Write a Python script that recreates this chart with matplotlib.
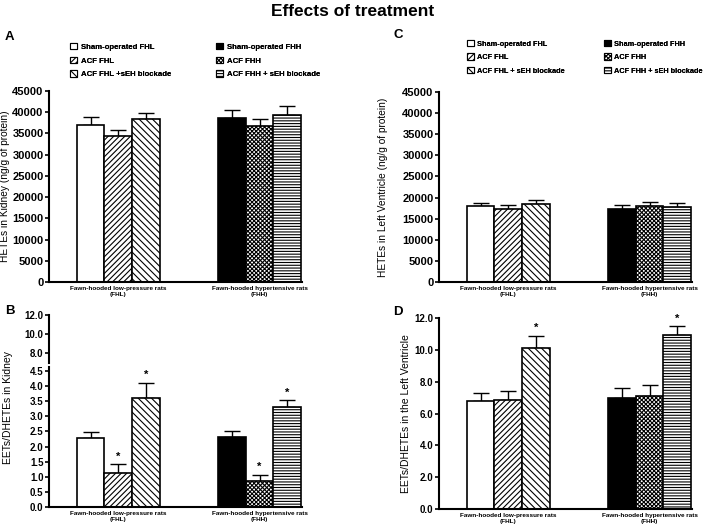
import numpy as np
import matplotlib.pyplot as plt
from matplotlib.patches import Patch

plt.rcParams['font.family'] = ['Liberation Sans', 'DejaVu Sans']
plt.rcParams['font.weight'] = 'bold'
plt.rcParams['hatch.linewidth'] = 0.8

# ------------------------------------------------------------
# data
# ------------------------------------------------------------
groups = ['Fawn-hooded low-pressure rats\n(FHL)',
          'Fawn-hooded hypertensive rats\n(FHH)']
labels_A = ['Sham-operated FHL', 'ACF FHL', 'ACF FHL +sEH blockade',
            'Sham-operated FHH', 'ACF FHH', 'ACF FHH + sEH blockade']
labels_C = ['Sham-operated FHL', 'ACF FHL', 'ACF FHL + sEH blockade',
            'Sham-operated FHH', 'ACF FHH', 'ACF FHH + sEH blockade']

hete_kidney = [37100, 34400, 38400, 38600, 36700, 39400]
hete_kidney_err = [1700, 1300, 1300, 2000, 1800, 2100]

eet_kidney = [2.28, 1.13, 3.62, 2.33, 0.86, 3.32]
eet_kidney_err = [0.20, 0.28, 0.49, 0.20, 0.20, 0.21]
eet_kidney_sig = [False, True, True, False, True, True]

hete_lv = [17900, 17400, 18400, 17300, 18100, 17700]
hete_lv_err = [800, 950, 1050, 1050, 950, 900]

eet_lv = [6.77, 6.88, 10.13, 6.98, 7.09, 10.94]
eet_lv_err = [0.50, 0.54, 0.75, 0.63, 0.69, 0.56]
eet_lv_sig = [False, False, True, False, False, True]

# bar styles
faces = ['white', 'white', 'white', 'black', 'white', 'white']
hatches = [None, '//////', '\\\\\\\\\\', None, 'xxxxxxxx', '------']
pos = [1.5, 2.5, 3.5, 6.6, 7.6, 8.6]
centers = [2.5, 7.6]
W, H = 705, 529


def box(left, top, right, bottom):
    """pixel box -> figure fraction"""
    return [left / W, 1 - bottom / H, (right - left) / W, (bottom - top) / H]


def style_axes(ax, labelsize):
    for s in ['top', 'right']:
        ax.spines[s].set_visible(False)
    for s in ['left', 'bottom']:
        ax.spines[s].set_linewidth(1.5)
    ax.tick_params(axis='y', direction='out', length=3, width=1.2,
                   labelsize=labelsize, pad=1)
    ax.tick_params(axis='x', length=0, labelsize=4.6, pad=3)
    ax.set_xlim(0, 9.13)


def draw_bars(ax, vals, errs, sig=None, star_off=2):
    bars = ax.bar(pos, vals, width=1.0, color=faces, edgecolor='black',
                  linewidth=1.2, zorder=2)
    for b, h in zip(bars, hatches):
        if h:
            b.set_hatch(h)
    ax.errorbar(pos, vals, yerr=[np.zeros(len(vals)), errs], fmt='none',
                ecolor='black', elinewidth=1.0, capsize=5.5, capthick=1.0,
                zorder=1)
    if sig is not None:
        for x, v, e, s in zip(pos, vals, errs, sig):
            if s:
                ax.annotate('*', (x, v + e), xytext=(0, star_off),
                            textcoords='offset points', ha='center',
                            va='bottom', fontsize=8)
    ax.set_xticks(centers, groups)


def legend_cols(fig, labels, x1, x2, ytop, spacing, size):
    handles = [Patch(facecolor=f, edgecolor='black', hatch=h, linewidth=0.8)
               for f, h in zip(faces, hatches)]
    for i, x in enumerate([x1, x2]):
        lg = fig.legend(handles[3 * i:3 * i + 3], labels[3 * i:3 * i + 3],
                        loc='upper left', bbox_to_anchor=(x / W, 1 - ytop / H),
                        frameon=False, fontsize=size, handlelength=0.9,
                        handleheight=0.9, handletextpad=0.5,
                        labelspacing=spacing, borderpad=0, borderaxespad=0)
        fig.add_artist(lg)


fig = plt.figure(figsize=(W / 100, H / 100), dpi=100)
fig.text(0.5, 1 - 12 / H, 'Effects of treatment', ha='center', va='center',
         fontsize=12.5, weight='bold')

# A: HETEs in kidney
axA = fig.add_axes(box(49, 91, 302, 282))
style_axes(axA, 8.0)
draw_bars(axA, hete_kidney, hete_kidney_err)
axA.set_ylim(0, 45000)
axA.set_yticks(np.arange(0, 45001, 5000))
axA.set_ylabel('HETEs in Kidney (ng/g of protein)', fontsize=7.3)
axA.yaxis.set_label_coords(-0.155, 0.5)

# C: HETEs in left ventricle
axC = fig.add_axes(box(439, 92, 692, 282))
style_axes(axC, 8.0)
draw_bars(axC, hete_lv, hete_lv_err)
axC.set_ylim(0, 45000)
axC.set_yticks(np.arange(0, 45001, 5000))
axC.set_ylabel('HETEs in Left Ventricle (ng/g of protein)', fontsize=7.3)
axC.yaxis.set_label_coords(-0.2, 0.5)

# B: EETs/DHETEs in kidney, broken y axis
axBt = fig.add_axes(box(49, 315.3, 302, 363))
style_axes(axBt, 7)
axBt.spines['bottom'].set_visible(False)
axBt.set_xticks([])
axBt.set_ylim(7.0, 12.0)
axBt.set_yticks([8, 10, 12])
axBt.yaxis.set_major_formatter('{x:.1f}')

axB = fig.add_axes(box(49, 366.7, 302, 507))
style_axes(axB, 7)
draw_bars(axB, eet_kidney, eet_kidney_err, eet_kidney_sig)
axB.set_ylim(0, 4.64)
axB.set_yticks(np.arange(0, 4.51, 0.5))
axB.yaxis.set_major_formatter('{x:.1f}')
axB.set_ylabel('EETs/DHETEs in Kidney', fontsize=7.5)
axB.yaxis.set_label_coords(-0.142, 0.71)

# D: EETs/DHETEs in left ventricle
axD = fig.add_axes(box(439, 318.3, 692, 509))
style_axes(axD, 7)
draw_bars(axD, eet_lv, eet_lv_err, eet_lv_sig)
axD.set_ylim(0, 12)
axD.set_yticks(np.arange(0, 12.1, 2))
axD.yaxis.set_major_formatter('{x:.1f}')
axD.set_ylabel('EETs/DHETEs in the Left Ventricle', fontsize=7.5)
axD.yaxis.set_label_coords(-0.11, 0.5)

# legends
legend_cols(fig, labels_A, 70, 216, 43, 0.75, 5.6)
legend_cols(fig, labels_C, 467, 604, 40, 0.8, 5.3)

# panel letters
for txt, x, y in [('A', 5, 37), ('B', 5, 311), ('C', 393, 35), ('D', 393, 312)]:
    fig.text(x / W, 1 - y / H, txt, fontsize=9.5, va='center', ha='left')

fig.savefig('out.png', dpi=100)
